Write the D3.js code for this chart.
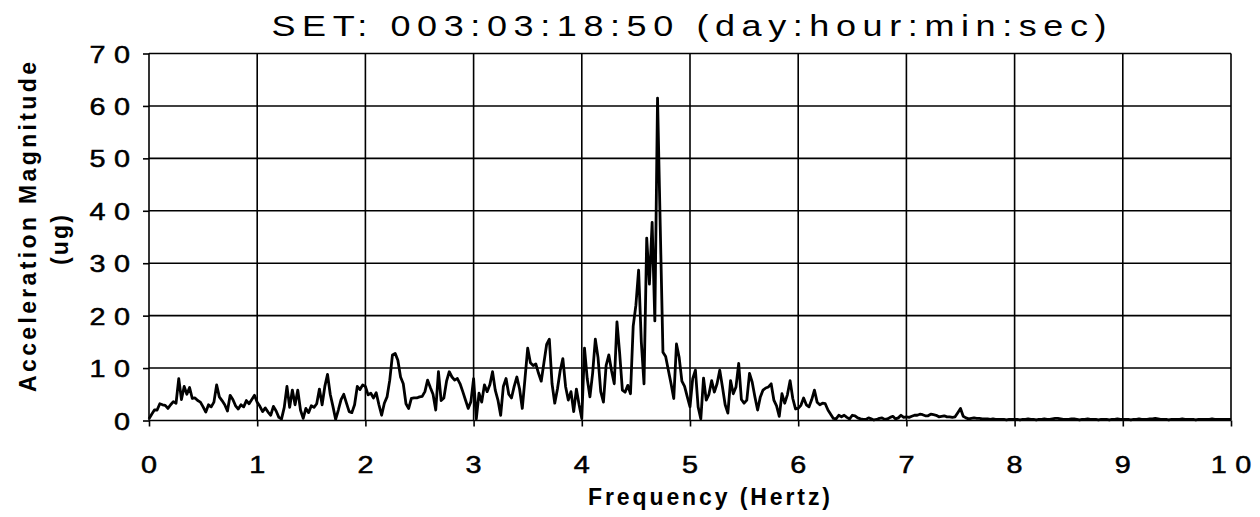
<!DOCTYPE html>
<html>
<head>
<meta charset="utf-8">
<title>SET spectrum</title>
<style>
body { margin: 0; background: #fff; }
.grid line { stroke: #000; stroke-width: 1.6px; }
.axis path { display: none; }
.axis line { stroke: #000; stroke-width: 1.6px; }
.tick-label { font-family: "Liberation Sans", Arial, sans-serif; font-size: 24px; fill: #000; stroke: #000; stroke-width: 0.5px; letter-spacing: 7px; }
.trace { fill: none; stroke: #000; stroke-width: 2.8px; stroke-linejoin: round; }
.label { font-family: "Liberation Sans", Arial, sans-serif; fill: #000; }
</style>
</head>
<body>
<script src="https://cdn.jsdelivr.net/npm/d3@7/dist/d3.min.js"></script>
<script>
// spectrum, one array per hertz, 0.025 Hz apart
var freqStep = 0.025;
var band0 = [0.3,1.2,2.0,2.0,3.2,3.0,2.9,2.3,3.0,3.6, 3.3,8.0,4.0,6.5,5.0,6.3,4.2,4.3,3.8,3.5,
             2.6,1.6,3.0,2.6,3.5,6.8,4.5,3.8,3.0,1.8, 4.8,4.0,2.8,2.2,3.0,2.6,3.8,3.2,4.0,4.8];
var band1 = [3.5,2.7,1.7,2.4,1.6,1.0,2.7,1.8,0.6,0.3, 2.5,6.5,2.5,5.8,3.0,5.8,2.0,0.4,2.3,1.5,
             2.8,2.5,3.2,6.0,3.0,6.5,8.8,5.0,2.7,0.2, 2.0,4.0,5.0,3.3,1.7,1.5,3.0,6.5,5.9,6.8];
var band2 = [6.5,4.9,5.2,4.3,5.3,3.0,1.0,3.3,4.5,7.7, 12.5,12.8,11.5,8.3,7.0,3.2,2.3,4.2,4.3,4.3,
             4.5,4.6,5.5,7.7,6.3,5.0,2.0,9.3,3.8,4.3, 7.5,9.3,8.3,7.7,8.0,7.0,5.5,3.9,2.3,3.6];
var band3 = [8.0,0.3,5.2,3.5,6.8,5.5,6.8,9.3,5.8,3.9, 1.0,6.5,8.0,5.0,4.3,6.5,8.3,6.0,2.3,8.0,
             13.8,11.0,10.5,10.8,9.0,7.5,11.0,14.5,15.5,7.0, 3.3,6.0,9.5,11.8,6.5,3.9,5.5,1.7,6.0,3.0];
var band4 = [0.4,13.8,8.0,4.5,9.0,15.5,12.0,5.5,3.5,10.5, 12.5,9.5,7.0,18.8,12.8,5.8,5.4,6.7,5.1,18.0,
             22.0,28.7,15.0,7.0,34.8,26.0,37.8,19.0,61.5,37.0, 13.0,12.2,9.6,7.0,4.2,14.6,12.0,7.5,6.5,4.5];
var band5 = [2.6,8.0,9.6,2.6,0.3,8.1,3.9,5.0,7.6,5.4, 7.0,9.6,6.4,3.0,1.4,7.6,5.1,6.4,10.9,4.0,
             3.3,3.9,9.0,7.3,4.5,2.0,4.5,5.8,6.2,6.4, 7.0,3.9,2.8,0.8,5.1,3.3,4.9,7.6,4.2,2.2];
var band6 = [2.3,2.9,4.3,3.0,2.6,4.0,5.8,3.5,3.0,3.3, 3.2,2.0,1.2,0.4,0.3,1.0,0.7,1.0,0.6,0.3,
             1.0,0.9,0.5,0.3,0.2,0.2,0.5,0.3,0.1,0.2, 0.4,0.5,0.2,0.3,0.6,0.8,0.3,0.5,1.0,0.6];
var band7 = [0.7,0.6,0.8,1.0,1.0,1.2,1.1,0.9,0.9,1.2, 1.1,1.0,0.7,0.8,0.9,0.7,0.7,0.6,0.7,1.5,
             2.3,0.8,0.5,0.3,0.4,0.5,0.4,0.4,0.3,0.3, 0.3,0.2,0.3,0.2,0.2,0.2,0.2,0.1,0.2,0.2];
var band8 = [0.2,0.2,0.1,0.2,0.2,0.3,0.2,0.2,0.1,0.2, 0.2,0.3,0.2,0.2,0.3,0.4,0.4,0.3,0.2,0.2,
             0.2,0.3,0.3,0.2,0.1,0.2,0.2,0.3,0.2,0.2, 0.2,0.1,0.2,0.2,0.2,0.1,0.2,0.2,0.3,0.2];
var band9 = [0.2,0.2,0.2,0.1,0.2,0.2,0.3,0.2,0.2,0.2, 0.3,0.3,0.4,0.3,0.2,0.2,0.2,0.1,0.2,0.2,
             0.2,0.2,0.3,0.2,0.2,0.2,0.2,0.1,0.2,0.2, 0.2,0.2,0.2,0.3,0.2,0.2,0.2,0.2,0.2,0.2, 0.2];

var xTicks = [0,1,2,3,4,5,6,7,8,9,10];
var yTicks = [0,10,20,30,40,50,60,70];
var titleText = "SET:  003:03:18:50  (day:hour:min:sec)";
var xTitle = "Frequency  (Hertz)";
var yTitle = "Acceleration  Magnitude";
var yUnit = "(ug)";

var mags = [].concat(band0, band1, band2, band3, band4, band5, band6, band7, band8, band9);
var spectrum = mags.map(function(m, i) { return { f: i * freqStep, m: m }; });

var width = 1260, height = 517;
var margin = { top: 53.5, right: 29, bottom: 96.5, left: 149 };
var stretch = 1.2; // the scanned lettering is wider than Arial
var spacing = 7;   // letter-spacing of tick labels, before stretch

var x = d3.scaleLinear().domain([0, 10]).range([margin.left, width - margin.right]);
var y = d3.scaleLinear().domain([0, 70]).range([height - margin.bottom, margin.top]);

var svg = d3.select("body").append("svg")
    .attr("width", width)
    .attr("height", height);

// grid
var grid = svg.append("g").attr("class", "grid");
grid.selectAll(".v").data(xTicks).enter().append("line")
    .attr("x1", function(d) { return x(d); }).attr("x2", function(d) { return x(d); })
    .attr("y1", y(70)).attr("y2", y(0));
grid.selectAll(".h").data(yTicks).enter().append("line")
    .attr("x1", x(0)).attr("x2", x(10))
    .attr("y1", function(d) { return y(d); }).attr("y2", function(d) { return y(d); });

// axes: tick marks from d3, labels drawn below so they can be stretched
svg.append("g").attr("class", "axis")
    .attr("transform", "translate(" + x(0) + ",0)")
    .call(d3.axisLeft(y).tickValues(yTicks).tickSize(6).tickFormat(""));

svg.append("g").attr("class", "axis")
    .attr("transform", "translate(0," + y(0) + ")")
    .call(d3.axisBottom(x).tickValues(xTicks).tickSize(6).tickFormat(""));

svg.append("g").selectAll("text").data(yTicks).enter().append("text")
    .attr("class", "tick-label")
    .attr("transform", function(d) {
        return "translate(" + (130 + spacing * stretch) + "," + (y(d) + 9) + ") scale(" + stretch + ",1)";
    })
    .attr("text-anchor", "end")
    .text(function(d) { return d; });

svg.append("g").selectAll("text").data(xTicks).enter().append("text")
    .attr("class", "tick-label")
    .attr("transform", function(d) {
        return "translate(" + (x(d) + spacing * stretch / 2) + ",473) scale(" + stretch + ",1)";
    })
    .attr("text-anchor", "middle")
    .text(function(d) { return d; });

// trace
var line = d3.line()
    .x(function(d) { return x(d.f); })
    .y(function(d) { return y(d.m); });

svg.append("path")
    .datum(spectrum)
    .attr("class", "trace")
    .attr("d", line);

// titles
svg.append("text").attr("class", "label")
    .attr("transform", "translate(689,36) scale(" + stretch + ",1)")
    .attr("text-anchor", "middle")
    .attr("textLength", 835 / stretch).attr("lengthAdjust", "spacing")
    .style("font-size", "30px")
    .text(titleText);

svg.append("text").attr("class", "label")
    .attr("x", 709).attr("y", 505)
    .attr("text-anchor", "middle")
    .attr("textLength", 242).attr("lengthAdjust", "spacing")
    .style("font-size", "23px").style("font-weight", "bold")
    .text(xTitle);

svg.append("text").attr("class", "label")
    .attr("transform", "translate(36,227) rotate(-90)")
    .attr("text-anchor", "middle")
    .attr("textLength", 330).attr("lengthAdjust", "spacing")
    .style("font-size", "23px").style("font-weight", "bold")
    .text(yTitle);

svg.append("text").attr("class", "label")
    .attr("transform", "translate(68,240) rotate(-90)")
    .attr("text-anchor", "middle")
    .attr("textLength", 50).attr("lengthAdjust", "spacing")
    .style("font-size", "23px").style("font-weight", "bold")
    .text(yUnit);
</script>
</body>
</html>
